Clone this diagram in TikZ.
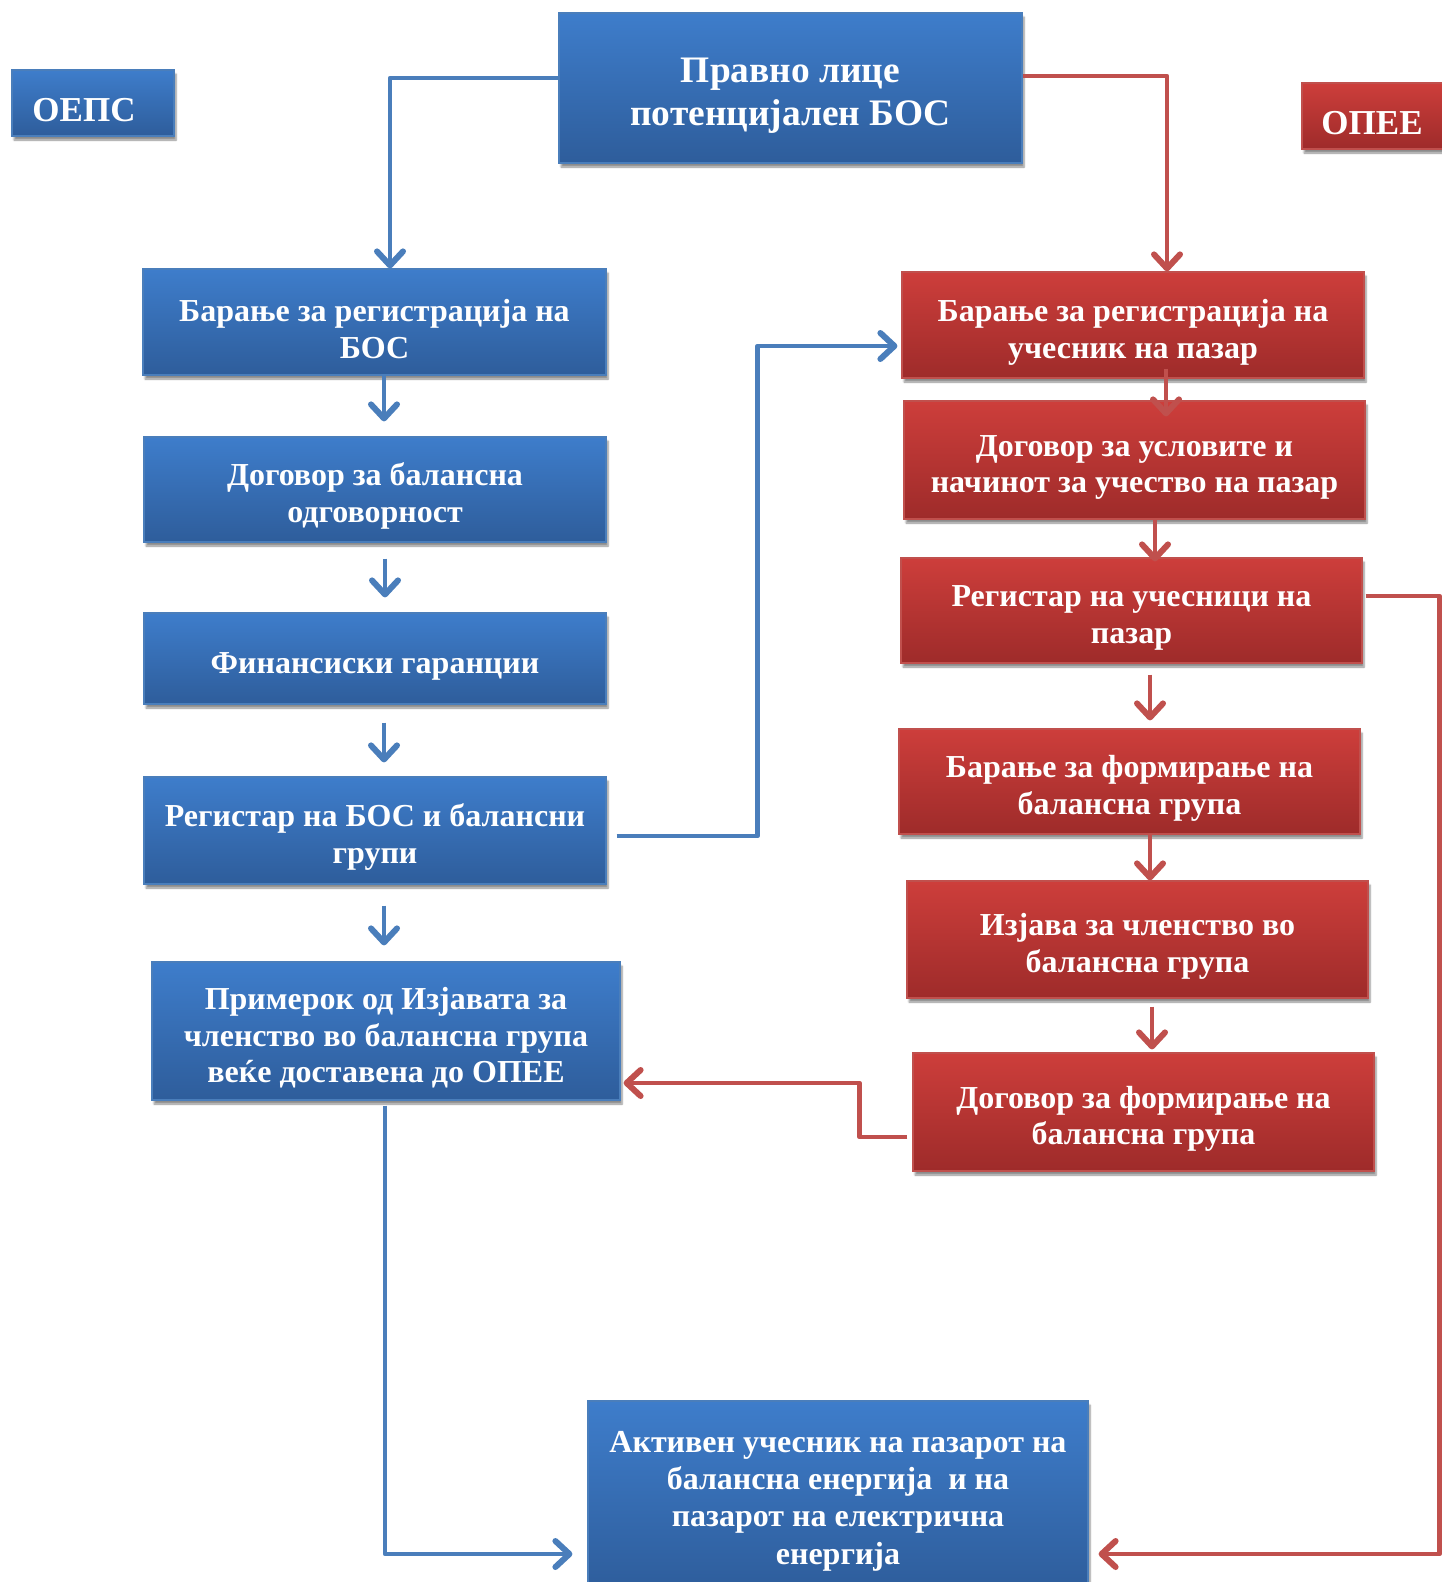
\documentclass[tikz,border=0pt]{standalone}
\usepackage{fontspec}
\setmainfont{Liberation Serif}
\usetikzlibrary{arrows.meta,shadows.blur}

\definecolor{btop}{HTML}{3E7DCB}
\definecolor{bbot}{HTML}{2E5D9B}
\definecolor{bedge}{HTML}{4A7EBB}
\definecolor{rtop}{HTML}{CD3E3B}
\definecolor{rbot}{HTML}{9E2B2A}
\definecolor{redge}{HTML}{C0504D}
\definecolor{bline}{HTML}{4A7EBB}
\definecolor{rline}{HTML}{C0504D}

\newcommand\tpstrut[1]{\rule{0pt}{#1}}

\tikzset{
 box/.style={rectangle, inner sep=0pt, align=center, text=white,
   font=\fontsize{32}{36.5}\selectfont\bfseries,
   blur shadow={shadow xshift=2pt, shadow yshift=-4pt, shadow blur steps=6, shadow opacity=45}},
 bluebox/.style={box, top color=btop, bottom color=bbot, draw=bedge, line width=1.2pt},
 redbox/.style={box, top color=rtop, bottom color=rbot, draw=redge, line width=1.2pt},
 conn/.style={line width=4.5pt, line join=round, -{Straight Barb[length=14pt,width=26pt,line width=6pt,round]}},
 bconn/.style={conn, draw=bline},
 rconn/.style={conn, draw=rline},
}

\begin{document}
\begin{tikzpicture}[x=1pt,y=-1pt]
\useasboundingbox (0,0) rectangle (1442,1582);

% labels
\node[bluebox, minimum width=162pt, minimum height=66pt, font=\fontsize{35}{40}\selectfont\bfseries] (oeps) at (93,103) {\tpstrut{37pt}\hspace*{-18pt}ОЕПС};
\node[redbox, minimum width=160pt, minimum height=66pt, font=\fontsize{35}{40}\selectfont\bfseries] (opee) at (1382,116) {\tpstrut{37pt}\hspace*{-20pt}ОПЕЕ};

% top
\node[bluebox, minimum width=463pt, minimum height=150pt, font=\fontsize{37.4}{43.5}\selectfont\bfseries] (top) at (790.5,88) {\tpstrut{40pt}Правно лице\\потенцијален БОС};

% left column
\node[bluebox, minimum width=463pt, minimum height=106pt] (b1) at (374.5,322) {\tpstrut{36pt}Барање за регистрација на\\БОС};
\node[bluebox, minimum width=462pt, minimum height=105pt] (b2) at (375,489.5) {\tpstrut{36pt}Договор за балансна\\одговорност};
\node[bluebox, minimum width=462pt, minimum height=91pt] (b3) at (375,658.5) {\tpstrut{36pt}Финансиски гаранции};
\node[bluebox, minimum width=462pt, minimum height=107pt] (b4) at (375,830.5) {\tpstrut{36pt}Регистар на БОС и балансни\\групи};
\node[bluebox, minimum width=468pt, minimum height=138pt] (b5) at (386,1031) {\tpstrut{36pt}Примерок од Изјавата за\\членство во балансна група\\веќе доставена до ОПЕЕ};
\node[bluebox, minimum width=500pt, minimum height=190pt, font=\fontsize{32}{37.3}\selectfont\bfseries] (b6) at (838,1496) {\tpstrut{31pt}Активен учесник на пазарот на\\балансна енергија\ \ и на\\пазарот на електрична\\енергија};

% right column
\node[redbox, minimum width=462pt, minimum height=106pt] (r1) at (1133,325) {\tpstrut{37pt}Барање за регистрација на\\учесник на пазар};
\node[redbox, minimum width=461pt, minimum height=118pt] (r2) at (1134.5,460) {\tpstrut{36pt}Договор за условите и\\начинот за учество на пазар};
\node[redbox, minimum width=461pt, minimum height=105pt] (r3) at (1131.5,610.5) {\tpstrut{36pt}Регистар на учесници на\\пазар};
\node[redbox, minimum width=461pt, minimum height=105pt] (r4) at (1129.5,781.5) {\tpstrut{36pt}Барање за формирање на\\балансна група};
\node[redbox, minimum width=461pt, minimum height=117pt] (r5) at (1137.5,939.5) {\tpstrut{36pt}Изјава за членство во\\балансна група};
\node[redbox, minimum width=461pt, minimum height=118pt] (r6) at (1143.5,1112) {\tpstrut{36pt}Договор за формирање на\\балансна група};

% connectors
\draw[bconn] ([yshift=10pt]top.west) -| ([xshift=15.5pt]b1.north);
\draw[rconn] ([yshift=12pt]top.east) -| ([xshift=34pt]r1.north);

\draw[bconn] ([xshift=9.5pt]b1.south) -- ([xshift=9pt,yshift=15pt]b2.north);
\draw[bconn] ([xshift=10pt,yshift=-16pt]b2.south) -- ([xshift=10pt,yshift=15pt]b3.north);
\draw[bconn] ([xshift=9pt,yshift=-18pt]b3.south) -- ([xshift=9pt,yshift=14pt]b4.north);
\draw[bconn] ([xshift=9pt,yshift=-21pt]b4.south) -- ([xshift=-2pt,yshift=16pt]b5.north);

\draw[bconn] ([xshift=10pt,yshift=-5.5pt]b4.east) -- ++(141,0) |- ([xshift=-4pt,yshift=-21pt]r1.west);

\draw[rconn] ([xshift=33pt,yshift=10pt]r1.south) -- ([xshift=31.5pt,yshift=-16pt]r2.north);
\draw[rconn] ([xshift=20.5pt]r2.south) -- ([xshift=23.5pt,yshift=-4pt]r3.north);
\draw[rconn] ([xshift=18.5pt,yshift=-11pt]r3.south) -- ([xshift=20.5pt,yshift=8pt]r4.north);
\draw[rconn] ([xshift=20.5pt]r4.south) -- ([xshift=12.5pt]r5.north);
\draw[rconn] ([xshift=14.5pt,yshift=-8pt]r5.south) -- ([xshift=8.5pt,yshift=3pt]r6.north);

\draw[rconn] ([xshift=-5pt,yshift=-25pt]r6.west) -- ++(-48,0) |- ([xshift=3pt,yshift=-52pt]b5.east);
\draw[bconn] ([xshift=-1pt,yshift=-5pt]b5.south) |- ([xshift=-15pt,yshift=-58pt]b6.west);
\draw[rconn] ([xshift=3pt,yshift=14.5pt]r3.east) -- ++(74,0) |- ([xshift=10pt,yshift=-58pt]b6.east);
\end{tikzpicture}
\end{document}
